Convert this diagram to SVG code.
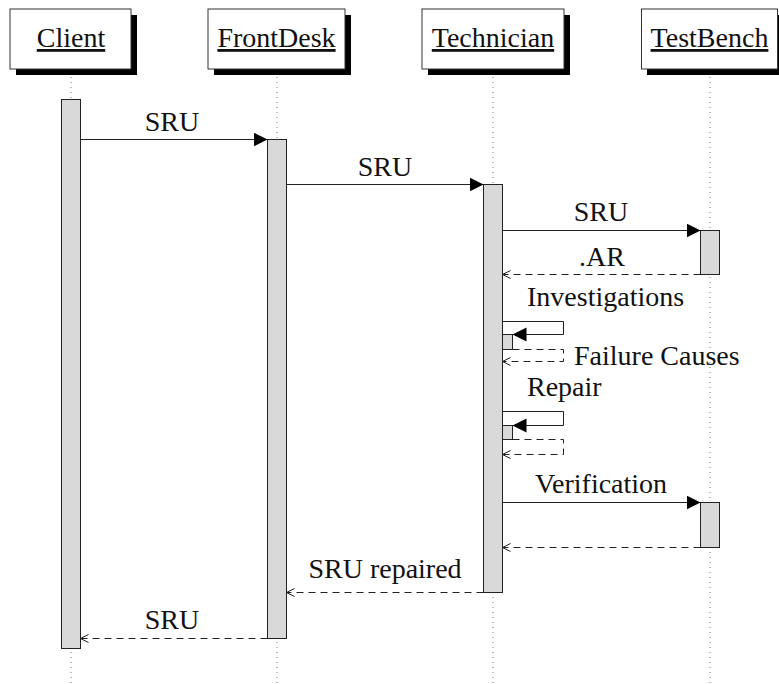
<svg xmlns="http://www.w3.org/2000/svg" width="779" height="684" viewBox="0 0 779 684">
<style>
text{font-family:'Liberation Serif',Tinos,'Times New Roman','Nimbus Roman','Nimbus Roman No9 L','Noto Serif','FreeSerif','DejaVu Serif',Times,serif;font-size:28px;fill:#111}
.c{text-anchor:middle}
.s{text-anchor:start}
.box{fill:#fff;stroke:#333;stroke-width:1}
.sh{fill:#000}
.life{stroke:#777;stroke-width:1;stroke-dasharray:1 4;fill:none}
.act{fill:#d9d9d9;stroke:#222;stroke-width:1}
.msg{stroke:#222;stroke-width:1;fill:none}
.ret{stroke:#222;stroke-width:1;fill:none;stroke-dasharray:7 5}
</style>
<defs>
<marker id="tri" markerUnits="userSpaceOnUse" markerWidth="15" markerHeight="15" refX="14" refY="7" orient="auto" viewBox="0 0 15 15">
<path d="M0,0 L14,7 L0,14 z" fill="#000"/>
</marker>
<marker id="open" markerUnits="userSpaceOnUse" markerWidth="10" markerHeight="10" refX="8.5" refY="4.5" orient="auto" viewBox="0 0 10 10">
<path d="M0.5,0.5 L8.5,4.5 L0.5,8.5" fill="none" stroke="#222" stroke-width="1"/>
</marker>
</defs>

<g id="client">
<rect class="sh" x="16" y="15" width="121" height="60"/>
<rect class="box" x="10" y="9" width="121" height="60"/>
<text class="c" x="71" y="47" text-decoration="underline">Client</text>
<line class="life" x1="71" y1="77" x2="71" y2="684"/>
<rect class="act" x="61.5" y="99.5" width="19" height="549"/>
</g>

<g id="frontdesk">
<rect class="sh" x="214" y="15" width="137" height="60"/>
<rect class="box" x="208" y="9" width="137" height="60"/>
<text class="c" x="276.5" y="47" text-decoration="underline">FrontDesk</text>
<line class="life" x1="277" y1="77" x2="277" y2="684"/>
<rect class="act" x="267.5" y="139.5" width="19" height="499"/>
</g>

<g id="technician">
<rect class="sh" x="428" y="15" width="142" height="60"/>
<rect class="box" x="422" y="9" width="142" height="60"/>
<text class="c" x="493" y="47" text-decoration="underline">Technician</text>
<line class="life" x1="493" y1="77" x2="493" y2="684"/>
<rect class="act" x="483.5" y="184.5" width="19" height="408"/>
<rect class="act" x="502.5" y="334.5" width="10" height="15"/>
<rect class="act" x="502.5" y="425.5" width="10" height="14"/>
</g>

<g id="testbench">
<rect class="sh" x="647" y="15" width="137" height="60"/>
<rect class="box" x="641.5" y="9" width="136" height="60"/>
<text class="c" x="709.5" y="47" text-decoration="underline">TestBench</text>
<line class="life" x1="710" y1="77" x2="710" y2="684"/>
<rect class="act" x="700.5" y="230.5" width="19" height="44"/>
<rect class="act" x="700.5" y="502.5" width="19" height="45"/>
</g>

<g id="connectors">
<line class="msg" x1="80.5" y1="139.5" x2="267.5" y2="139.5" marker-end="url(#tri)"/>
<text class="c" x="172" y="131">SRU</text>

<line class="msg" x1="286.5" y1="184.5" x2="483.5" y2="184.5" marker-end="url(#tri)"/>
<text class="c" x="385" y="176">SRU</text>

<line class="msg" x1="502.5" y1="230.5" x2="700.5" y2="230.5" marker-end="url(#tri)"/>
<text class="c" x="601" y="221">SRU</text>

<line class="ret" x1="700.5" y1="274.5" x2="502.5" y2="274.5" marker-end="url(#open)"/>
<text class="c" x="602" y="266">.AR</text>

<polyline class="msg" points="502.5,321.5 563.5,321.5 563.5,334.5 512.5,334.5" marker-end="url(#tri)"/>
<text class="s" x="527" y="306">Investigations</text>
<polyline class="ret" points="512.5,349.5 563.5,349.5 563.5,361.5 502.5,361.5" marker-end="url(#open)"/>
<text class="s" x="574" y="365">Failure Causes</text>

<polyline class="msg" points="502.5,411.5 563.5,411.5 563.5,425.5 512.5,425.5" marker-end="url(#tri)"/>
<text class="s" x="527" y="396">Repair</text>
<polyline class="ret" points="512.5,439.5 563.5,439.5 563.5,454.5 502.5,454.5" marker-end="url(#open)"/>

<line class="msg" x1="502.5" y1="502.5" x2="700.5" y2="502.5" marker-end="url(#tri)"/>
<text class="c" x="601" y="493">Verification</text>

<line class="ret" x1="700.5" y1="547.5" x2="502.5" y2="547.5" marker-end="url(#open)"/>

<line class="ret" x1="483.5" y1="592.5" x2="286.5" y2="592.5" marker-end="url(#open)"/>
<text class="c" x="385" y="578">SRU repaired</text>

<line class="ret" x1="267.5" y1="638.5" x2="80.5" y2="638.5" marker-end="url(#open)"/>
<text class="c" x="172" y="629">SRU</text>
</g>
</svg>
